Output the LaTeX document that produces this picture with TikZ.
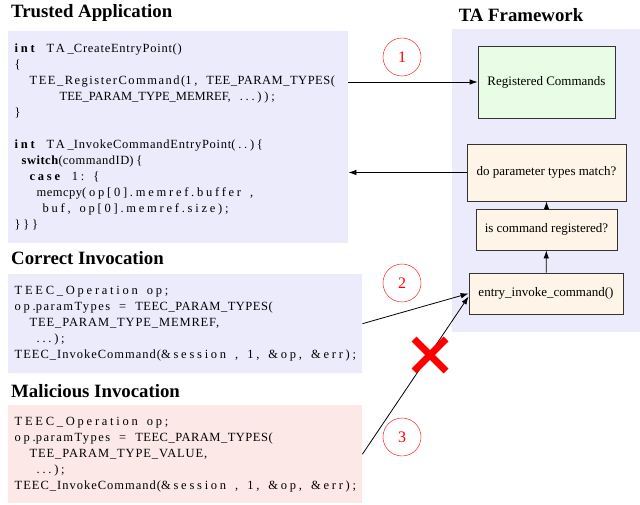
\documentclass[tikz,border=0pt]{standalone}
\usepackage{fontspec}
\setmainfont{Liberation Serif}
\newfontfamily\codesp{Liberation Serif}[LetterSpace=22]
\usepackage{tikz}
\usetikzlibrary{arrows.meta,positioning,calc}

\definecolor{lavender}{HTML}{EBEBFC}
\definecolor{pinkbg}{HTML}{FDE8E8}
\definecolor{greenbg}{HTML}{E8FCE6}
\definecolor{creambg}{HTML}{FEF4E8}
\definecolor{boxline}{HTML}{333333}

\newcommand{\kw}[1]{\textbf{#1}}
\newcommand{\lsp}[2]{{\addfontfeature{LetterSpace=#1}#2}}
\newcommand{\sk}{\hspace{9pt}}
\newcommand{\codefont}{\codesp\fontsize{12.5}{16}\selectfont}

\begin{document}
\begin{tikzpicture}[x=1pt,y=-1pt,
  title/.style={font=\fontsize{18.8}{20}\selectfont\bfseries,anchor=base west,inner sep=0},
  codebox/.style={anchor=north west,align=left,inner xsep=6.5pt,inner ysep=0,font=\codefont},
  fwbox/.style={draw=boxline,line width=0.8pt,fill=creambg,
    font=\fontsize{13}{14}\selectfont,inner sep=0},
  numcirc/.style={circle,draw=red,text=red,minimum size=38pt,inner sep=0,
    font=\fontsize{16}{17}\selectfont},
  arr/.style={-{Latex[length=8pt,width=5.5pt]},line width=0.8pt}]
\useasboundingbox (0,0) rectangle (640,505);

% titles
\node[title] (tatitle) at (11,17.5) {Trusted Application};
\node[title,anchor=base] (fwtitle) at (521,21.5) {TA Framework};
\node[title] (cortitle) at (11,265) {Correct Invocation};
\node[title] (maltitle) at (11,397) {Malicious Invocation};

% framework background
\fill[lavender] (452,29) rectangle (640,332);

% code boxes
\node[codebox,fill=lavender,text width=327pt,minimum height=212pt] (ta) at (8,31) {%
\kw{int}\sk TA\_\lsp{6}{CreateEntryPoint()}\\
\{\\
\hspace*{15pt}\lsp{12}{TEE\_RegisterCommand(}1,\sk\lsp{4}{TEE\_PARAM\_TYPES(}\\
\hspace*{45pt}\lsp{0}{TEE\_PARAM\_TYPE\_MEMREF,}\sk...));\\
\}\\
\mbox{}\\
\kw{int}\sk TA\_\lsp{6}{InvokeCommandEntryPoint}(..)\{\\
\hspace*{7pt}\kw{\lsp{4}{switch}}(\lsp{4}{commandID})\{\\
\hspace*{15pt}\kw{case}\sk 1:\sk\{\\
\hspace*{22pt}\lsp{4}{memcpy}(op[0].memref.buffer\sk,\\
\hspace*{28pt}buf,\sk op[0].memref.size);\\
\}\}\}};

\node[codebox,fill=lavender,text width=341pt,minimum height=99pt] (correct) at (8,274) {%
TEEC\_Operation\sk op;\\
op.\lsp{12}{paramTypes}\sk=\sk\lsp{4}{TEEC\_PARAM\_TYPES(}\\
\hspace*{15pt}\lsp{7}{TEE\_PARAM\_TYPE\_MEMREF,}\\
\hspace*{22pt}...);\\
\lsp{8}{TEEC\_InvokeCommand(}\&session\sk,\sk1,\sk\&op,\sk\&err);};

\node[codebox,fill=pinkbg,text width=341pt,minimum height=98pt] (malicious) at (8,405) {%
TEEC\_Operation\sk op;\\
op.\lsp{12}{paramTypes}\sk=\sk\lsp{4}{TEEC\_PARAM\_TYPES(}\\
\hspace*{15pt}\lsp{7}{TEE\_PARAM\_TYPE\_VALUE,}\\
\hspace*{22pt}...);\\
\lsp{8}{TEEC\_InvokeCommand(}\&session\sk,\sk1,\sk\&op,\sk\&err);};

% framework boxes
\node[fwbox,fill=greenbg,minimum width=137pt,minimum height=72pt] (reg) at (546.5,82) {Registered Commands};
\node[fwbox,minimum width=159pt,minimum height=57pt] (param) at (546.5,172.5) {do parameter types match?};
\node[fwbox,minimum width=141pt,minimum height=41pt] (iscmd) at (546.5,229.5) {is command registered?};
\node[fwbox,minimum width=154pt,minimum height=41pt] (entry) at (546,293.5) {entry\_invoke\_command()};

\draw[arr] (entry) -- (iscmd);
\draw[arr] (iscmd) -- (param);

% calls between the two sides
\draw[arr] (ta.east |- reg.west) -- (reg.west);
\draw[arr] (param.west) -- (ta.east |- param.west);
\draw[arr] (correct.east) -- (entry.west);
\draw[arr] (malicious.east) -- ([yshift=-3pt]entry.west);

\node[numcirc] (one) at (402,57) {1};
\node[numcirc] (two) at (402,283) {2};
\node[numcirc] (three) at (402,437) {3};

% rejected call
\coordinate (cross) at (430,355);
\draw[red,line width=7pt] ($(cross)+(-16,-16)$) -- ($(cross)+(16,16)$)
  ($(cross)+(-16,16)$) -- ($(cross)+(16,-16)$);
\end{tikzpicture}
\end{document}
